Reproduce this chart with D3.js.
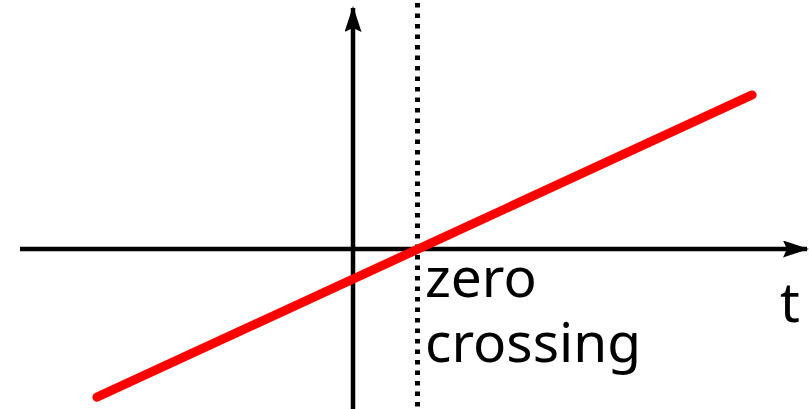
<!DOCTYPE html>
<html>
<head>
<meta charset="utf-8">
<script src="https://cdn.jsdelivr.net/npm/d3@7"></script>
<style>
  body { margin: 0; background: #fff; }
  svg { display: block; }
</style>
</head>
<body>
<div id="chart"></div>
<script>
// signal samples: time t and value v (axis units)
const tValues = [-3.94, 6.14];
const vValues = [-2.28, 2.37];
const zeroT = 1;
const labelLines = ["zero", "crossing"];
const axisLabel = "t";

const w = 809, h = 409;

// 65px per unit, origin at (353, 249)
const xScale = d3.scaleLinear().domain([0, 1]).range([353, 418]);
const yScale = d3.scaleLinear().domain([0, 1]).range([249, 184]);

const svg = d3.select("#chart").append("svg")
  .attr("width", w)
  .attr("height", h);

const defs = svg.append("defs");
defs.append("marker")
  .attr("id", "arrow")
  .attr("viewBox", "0 0 26 17")
  .attr("refX", 24)
  .attr("refY", 8.5)
  .attr("markerWidth", 26)
  .attr("markerHeight", 17)
  .attr("markerUnits", "userSpaceOnUse")
  .attr("orient", "auto")
  .append("path")
  .attr("d", "M0,0 L26,8.5 L0,17 L4,8.5 Z")
  .attr("fill", "#000");

// horizontal axis
svg.append("line")
  .attr("x1", 20).attr("x2", 807)
  .attr("y1", yScale(0)).attr("y2", yScale(0))
  .attr("stroke", "#000")
  .attr("stroke-width", 4.3)
  .attr("marker-end", "url(#arrow)");

// vertical axis
svg.append("line")
  .attr("x1", xScale(0)).attr("x2", xScale(0))
  .attr("y1", h).attr("y2", 8)
  .attr("stroke", "#000")
  .attr("stroke-width", 4.5)
  .attr("marker-end", "url(#arrow)");

// dotted zero-crossing marker
svg.append("line")
  .attr("x1", xScale(zeroT) - 0.5).attr("x2", xScale(zeroT) - 0.5)
  .attr("y1", 3).attr("y2", h)
  .attr("stroke", "#000")
  .attr("stroke-width", 5)
  .attr("stroke-dasharray", "4.5,6");

// red signal
const line = d3.line()
  .x((d, i) => xScale(tValues[i]))
  .y(d => yScale(d));

svg.append("path")
  .datum(vValues)
  .attr("d", line)
  .attr("fill", "none")
  .attr("stroke", "#ff0000")
  .attr("stroke-width", 9)
  .attr("stroke-linecap", "round");

// label, two lines in one text
const label = svg.append("text")
  .attr("font-family", "Noto Sans")
  .attr("font-size", 55)
  .attr("fill", "#000");

label.selectAll("tspan")
  .data(labelLines)
  .enter().append("tspan")
  .attr("x", 425)
  .attr("y", (d, i) => 297 + i * 65)
  .text(d => d);

svg.append("text")
  .attr("x", 790)
  .attr("y", 322)
  .attr("text-anchor", "middle")
  .attr("font-family", "Noto Sans")
  .attr("font-size", 55)
  .attr("fill", "#000")
  .text(axisLabel);
</script>
</body>
</html>
